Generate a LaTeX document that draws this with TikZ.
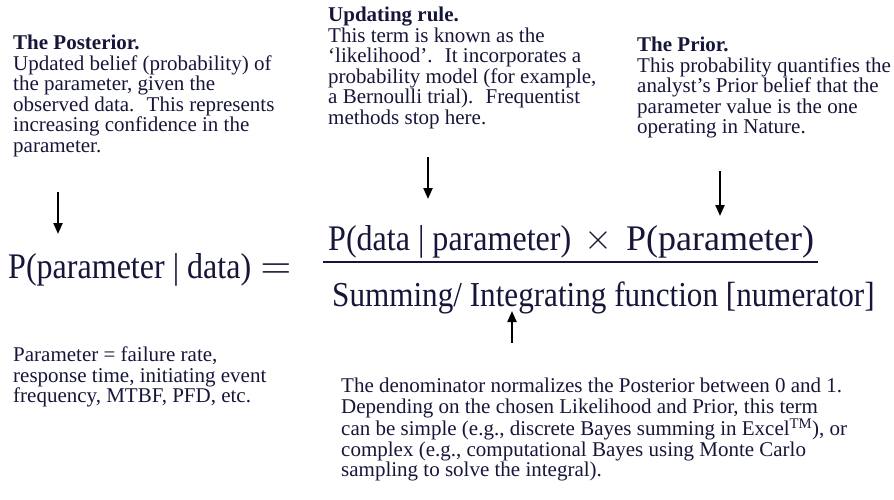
\documentclass[tikz,border=0pt]{standalone}
\usepackage{graphicx}
\usepackage{fontspec}
\setmainfont{Liberation Serif}
\newfontfamily\eqfont[FakeStretch=0.89]{Liberation Serif}
\usetikzlibrary{arrows.meta}
\definecolor{txt}{RGB}{22,22,58}
\tikzset{
  note/.style={anchor=north west, align=left, inner sep=0pt, text=txt,
    font=\fontsize{21}{20.5}\selectfont},
  eqterm/.style={anchor=base west, inner sep=0pt, text=txt,
    font=\eqfont\fontsize{36}{40}\selectfont},
  opsym/.style={anchor=center, inner sep=0pt, text=txt},
  pointer/.style={line width=2.2pt, black, -{Triangle[width=9pt,length=11pt]}},
  fracrule/.style={line width=1.6pt, txt},
}
\begin{document}
\begin{tikzpicture}[x=1pt,y=-1pt]
\useasboundingbox (0,0) rectangle (894,500);

% explanatory notes
\node[note] (post) at (13,35) {\textbf{The Posterior.}\\
Updated belief (probability) of\\
the parameter, given the\\
observed data.~ This represents\\
increasing confidence in the\\
parameter.};

\node[note] (upd) at (328,7) {\textbf{Updating rule.}\\
This term is known as the\\
‘likelihood’.~ It incorporates a\\
probability model (for example,\\
a Bernoulli trial).~ Frequentist\\
methods stop here.};

\node[note] (prior) at (637,37) {\textbf{The Prior.}\\
This probability quantifies the\\
analyst’s Prior belief that the\\
parameter value is the one\\
operating in Nature.};

\node[note] (param) at (13,347) {Parameter = failure rate,\\
response time, initiating event\\
frequency, MTBF, PFD, etc.};

\node[note] (denomnote) at (341,378) {The denominator normalizes the Posterior between 0 and 1.\\
Depending on the chosen Likelihood and Prior, this term\\
can be simple (e.g., discrete Bayes summing in Excel\textsuperscript{TM}), or\\
complex (e.g., computational Bayes using Monte Carlo\\
sampling to solve the integral).};

% equation
\node[eqterm] (lhs) at (8,278) {P(parameter | data)};
\node[opsym] (eqs) at (276,271) {\scalebox{4}{$=$}};
\node[eqterm] (lik) at (328,250) {P(data | parameter)};
\node[opsym] (times) at (598,240) {\scalebox{3.6}{$\times$}};
\node[eqterm, font=\fontsize{36}{40}\selectfont] (pri) at (626,250) {P(parameter)};
\node[eqterm, font=\eqfont\fontsize{35}{40}\selectfont] (den) at (332,306) {Summing/ Integrating function [numerator]};
\coordinate (fl) at (323,262);
\coordinate (fr) at (818,262);
\draw[fracrule] (fl) -- (fr);

% arrows
\coordinate (a1s) at (58,192);  \coordinate (a1e) at (58,234);
\coordinate (a2s) at (428,157); \coordinate (a2e) at (428,199);
\coordinate (a3s) at (720,171); \coordinate (a3e) at (720,216);
\coordinate (a4s) at (512,343); \coordinate (a4e) at (512,311);
\draw[pointer] (a1s) -- (a1e);
\draw[pointer] (a2s) -- (a2e);
\draw[pointer] (a3s) -- (a3e);
\draw[pointer] (a4s) -- (a4e);
\end{tikzpicture}
\end{document}
